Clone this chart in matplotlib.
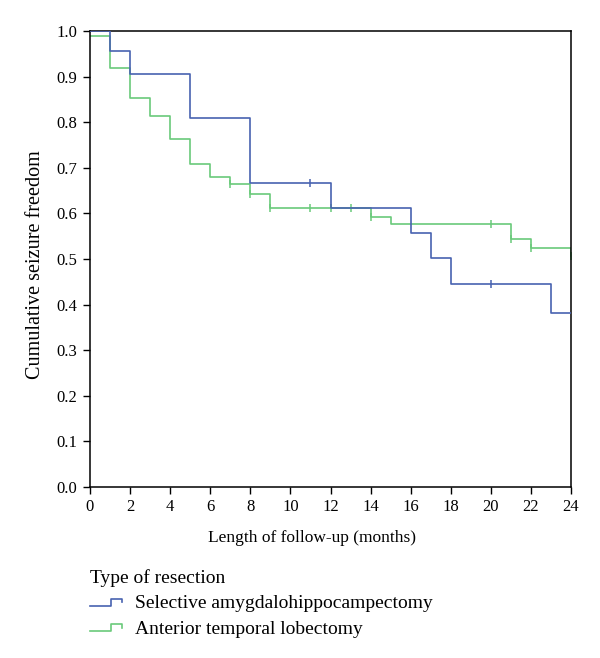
import matplotlib
matplotlib.use("Agg")
import matplotlib.pyplot as plt
from matplotlib.legend_handler import HandlerBase
from matplotlib.lines import Line2D

plt.rcParams['font.family'] = ['Liberation Serif', 'DejaVu Serif']

# Kaplan-Meier steps: time of each step and survival after it
sah_times = [0, 1, 2, 5, 8, 12, 16, 17, 18, 23, 24]
sah_surv = [1.0, 0.955, 0.905, 0.81, 0.666, 0.612, 0.556, 0.501, 0.444, 0.381, 0.381]
sah_cens_t = [11, 20]
sah_cens_s = [0.666, 0.444]

atl_times = [0, 1, 2, 3, 4, 5, 6, 7, 8, 9, 14, 15, 21, 22, 24]
atl_surv = [0.988, 0.918, 0.852, 0.814, 0.762, 0.708, 0.680, 0.665, 0.643, 0.612,
            0.593, 0.577, 0.543, 0.523, 0.507]
atl_cens_t = [7, 8, 9, 11, 12, 13, 14, 20, 21, 22, 24]
atl_cens_s = [0.665, 0.643, 0.612, 0.612, 0.612, 0.612, 0.593, 0.577, 0.543, 0.523, 0.507]

blue = '#4862b0'
green = '#6aca7a'


class StepHandler(HandlerBase):
    def create_artists(self, legend, orig_handle, xdescent, ydescent,
                       width, height, fontsize, trans):
        x0 = -xdescent
        y0 = -ydescent + height * 0.2
        xs = [x0, x0 + width * 0.66, x0 + width * 0.66, x0 + width, x0 + width]
        ys = [y0, y0, y0 + height * 0.5, y0 + height * 0.5, y0 + height * 0.25]
        ln = Line2D(xs, ys, color=orig_handle.get_color(), lw=1.2, transform=trans)
        return [ln]


fig = plt.figure(figsize=(6, 6.58), dpi=100)
ax = fig.add_axes([0.15, 0.26, 0.8017, 0.693])

l1, = ax.step(sah_times, sah_surv, where='post', color=blue, lw=1.2,
              label='Selective amygdalohippocampectomy', zorder=3)
ax.plot(sah_cens_t, sah_cens_s, ls='none', marker='|', ms=6, mew=1.1, color=blue, zorder=3)
l2, = ax.step(atl_times, atl_surv, where='post', color=green, lw=1.2,
              label='Anterior temporal lobectomy', zorder=2)
ax.plot(atl_cens_t, atl_cens_s, ls='none', marker='|', ms=6, mew=1.1, color=green, zorder=2)

ax.set_xlim(0, 24)
ax.set_ylim(0, 1.0)
ax.set_xticks(range(0, 25, 2))
ax.set_yticks([i / 10 for i in range(11)])
ax.set_yticklabels(['%.1f' % (i / 10) for i in range(11)])
ax.tick_params(direction='out', length=5, width=1, labelsize=12, pad=4)
for s in ax.spines.values():
    s.set_linewidth(1.1)

ax.set_xlabel('Length of follow-up (months)', fontsize=12.5)
ax.xaxis.set_label_coords(0.462, -0.094)
ax.set_ylabel('Cumulative seizure freedom', fontsize=14.5)
ax.yaxis.set_label_coords(-0.094, 0.487)

leg = fig.legend(handles=[l1, l2], title='Type of resection', loc='upper left',
                 bbox_to_anchor=(0.15, 0.135), frameon=False, fontsize=14,
                 title_fontsize=14, alignment='left', handlelength=1.65,
                 handletextpad=0.67, labelspacing=0.4, borderpad=0,
                 borderaxespad=0, handler_map={Line2D: StepHandler()})

fig.savefig('out.png', dpi=100)
